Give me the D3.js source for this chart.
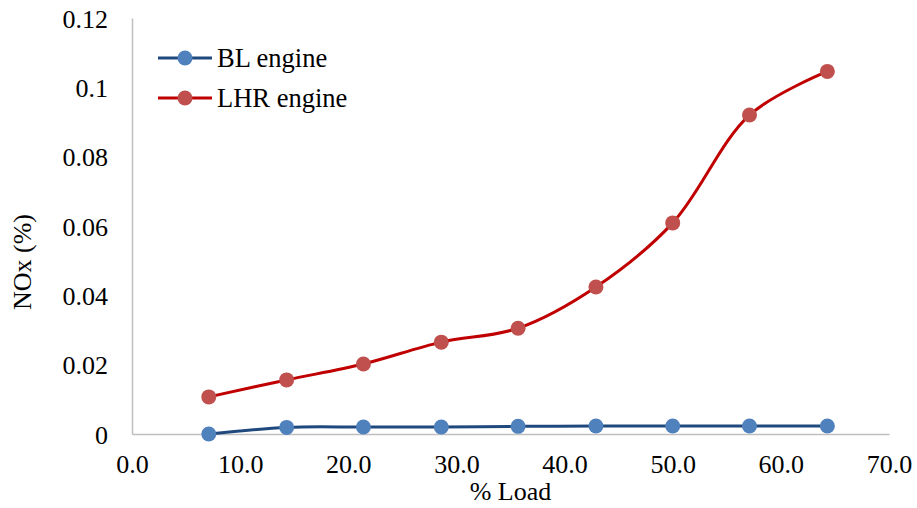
<!DOCTYPE html>
<html>
<head>
<meta charset="utf-8">
<script src="https://cdn.jsdelivr.net/npm/d3@7"></script>
<style>
  body { margin: 0; background: #fff; }
  text { font-family: "Liberation Serif", "Times New Roman", serif; fill: #000; }
</style>
</head>
<body>
<div id="chart"></div>
<script>
var loads = [7.1, 14.3, 21.4, 28.6, 35.7, 42.9, 50.0, 57.1, 64.3];
var blEngine = [0.0000, 0.0019, 0.0020, 0.0020, 0.0022, 0.0023, 0.0023, 0.0023, 0.0023];
var lhrEngine = [0.0107, 0.0156, 0.0202, 0.0265, 0.0305, 0.0424, 0.0609, 0.0920, 0.1046];
var xTicks = [0, 10, 20, 30, 40, 50, 60, 70];
var yTicks = [0, 0.02, 0.04, 0.06, 0.08, 0.1, 0.12];
var seriesNames = ["BL engine", "LHR engine"];

var width = 917, height = 508;
var plotLeft = 132, plotRight = 889, plotTop = 18, plotBottom = 434;

var series = [
    { name: seriesNames[0], values: blEngine, line: "#1F497D", dot: "#4F81BD" },
    { name: seriesNames[1], values: lhrEngine, line: "#C00000", dot: "#C0504D" }
];

var svg = d3.select("#chart")
    .append("svg")
    .attr("width", width)
    .attr("height", height);

var x = d3.scaleLinear().domain([0, 70]).range([plotLeft, plotRight]);
var y = d3.scaleLinear().domain([0, 0.12]).range([plotBottom, plotTop]);

// y axis
var yAxis = svg.append("g")
    .attr("transform", "translate(" + plotLeft + ",0)")
    .call(d3.axisLeft(y).tickValues(yTicks).tickSize(0).tickPadding(24)
        .tickFormat(d => d === 0 ? "0" : String(+d.toFixed(2))));
yAxis.select(".domain").attr("stroke", "#BFBFBF").attr("stroke-width", 1.5);
yAxis.selectAll("text").attr("font-size", 26).attr("dy", "0.35em")
    .style("font-family", "Liberation Serif");

// x axis
var xAxis = svg.append("g")
    .attr("transform", "translate(0," + plotBottom + ")")
    .call(d3.axisBottom(x).tickValues(xTicks).tickSize(0).tickPadding(21)
        .tickFormat(d3.format(".1f")));
xAxis.select(".domain").attr("stroke", "#BFBFBF").attr("stroke-width", 1.5);
xAxis.selectAll("text").attr("font-size", 26)
    .style("font-family", "Liberation Serif");

// axis titles
svg.append("text")
    .attr("x", (plotLeft + plotRight) / 2)
    .attr("y", 500)
    .attr("text-anchor", "middle")
    .attr("font-size", 26)
    .text("% Load");

svg.append("text")
    .attr("transform", "translate(31,262) rotate(-90)")
    .attr("text-anchor", "middle")
    .attr("font-size", 26)
    .text("NOx (%)");

var line = d3.line()
    .x((d, i) => x(loads[i]))
    .y(d => y(d))
    .curve(d3.curveCatmullRom.alpha(0.5));

series.forEach(s => {
    svg.append("path")
        .datum(s.values)
        .attr("d", line)
        .attr("fill", "none")
        .attr("stroke", s.line)
        .attr("stroke-width", 3);

    svg.selectAll(null)
        .data(s.values)
        .enter()
        .append("circle")
        .attr("cx", (d, i) => x(loads[i]))
        .attr("cy", d => y(d))
        .attr("r", 7.5)
        .attr("fill", s.dot);
});

// legend
series.forEach((s, i) => {
    var g = svg.append("g").attr("transform", "translate(158," + (58 + i * 40) + ")");
    g.append("line")
        .attr("x1", 0).attr("x2", 54)
        .attr("stroke", s.line)
        .attr("stroke-width", 3);
    g.append("circle")
        .attr("cx", 27)
        .attr("r", 7.5)
        .attr("fill", s.dot);
    g.append("text")
        .attr("x", 59)
        .attr("y", 9)
        .attr("font-size", 26.5)
        .text(s.name);
});
</script>
</body>
</html>
